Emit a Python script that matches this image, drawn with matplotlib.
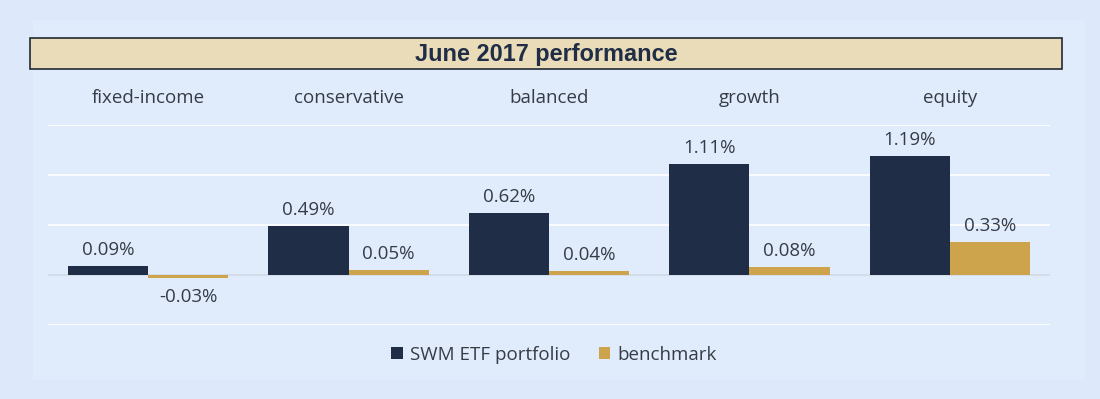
import numpy as np
import matplotlib.pyplot as plt
from matplotlib import font_manager
from matplotlib.patches import Rectangle

# Chart data
categories = ["fixed-income", "conservative", "balanced", "growth", "equity"]
swm_etf = [0.09, 0.49, 0.62, 1.11, 1.19]
benchmark = [-0.03, 0.05, 0.04, 0.08, 0.33]
series_names = ["SWM ETF portfolio", "benchmark"]

navy = "#1f2d46"
gold = "#cda34c"
text_col = "#363c46"
bg = "#dde9fa"

# Arial-like bold for the title
title_font = font_manager.FontProperties(family="DejaVu Sans", weight="bold", size=16.9)
for f in font_manager.findSystemFonts():
    if f.endswith("LiberationSans-Bold.ttf"):
        title_font = font_manager.FontProperties(fname=f, size=16.9)
        break

fig = plt.figure(figsize=(11, 3.99), dpi=100)
fig.patch.set_facecolor(bg)

# slightly lighter inner panel
fig.patches.append(Rectangle((33 / 1100, 1 - 380 / 399), (1085 - 33) / 1100, (380 - 20) / 399,
                             transform=fig.transFigure, facecolor="#e0ecfc", edgecolor="none", zorder=-2))

# title box
fig.patches.append(Rectangle((30 / 1100, 1 - 69 / 399), (1062 - 30) / 1100, 31 / 399,
                             transform=fig.transFigure, facecolor="#ebdcb9", edgecolor="#222a33",
                             linewidth=1.2, zorder=-1))
fig.text(546 / 1100, 1 - 54 / 399, "June 2017 performance", ha="center", va="center",
         fontproperties=title_font, color=navy)

ax = fig.add_axes([48 / 1100, 1 - 325 / 399, (1050 - 48) / 1100, 200 / 399])
ax.set_facecolor("none")
ax.set_zorder(2)
ax.set_axisbelow(True)

x = np.arange(len(categories))
w = 0.4
b1 = ax.bar(x - w / 2, swm_etf, w, color=navy, label=series_names[0], zorder=3)
b2 = ax.bar(x + w / 2, benchmark, w, color=gold, label=series_names[1], zorder=3)

ax.set_xlim(-0.5, len(categories) - 0.5)
ax.set_ylim(-0.5, 1.5)
ax.set_yticks([-0.5, 0, 0.5, 1.0, 1.5])
ax.grid(axis="y", color="white", linewidth=1.2)
ax.axhline(0, color="#ccd6e4", linewidth=1.2, zorder=2)
ax.tick_params(left=False, bottom=False, labelleft=False, labelbottom=False)
for s in ax.spines.values():
    s.set_visible(False)

# value labels
for bars in (b1, b2):
    for r in bars:
        v = r.get_height()
        cx = r.get_x() + r.get_width() / 2
        if v >= 0:
            ax.annotate(f"{v:.2f}%", (cx, v), xytext=(0, 5), textcoords="offset points",
                        ha="center", va="bottom", fontsize=13.5, family="Open Sans", color=text_col)
        else:
            ax.annotate(f"{v:.2f}%", (cx, v), xytext=(0, -7), textcoords="offset points",
                        ha="center", va="top", fontsize=13.5, family="Open Sans", color=text_col)

# category names above the plot
for i, c in enumerate(categories):
    ax.text(i, 1.77, c, ha="center", va="center", fontsize=13.5, family="Open Sans", color=text_col)

leg = fig.legend(loc="center", bbox_to_anchor=(554 / 1100, 1 - 355 / 399), ncol=2, frameon=False,
                 prop={"family": "Open Sans", "size": 13.5}, handlelength=0.6, handleheight=0.6,
                 handletextpad=0.4, columnspacing=1.5)
for t in leg.get_texts():
    t.set_color(text_col)

fig.savefig("out.png", dpi=100, facecolor=fig.get_facecolor())
